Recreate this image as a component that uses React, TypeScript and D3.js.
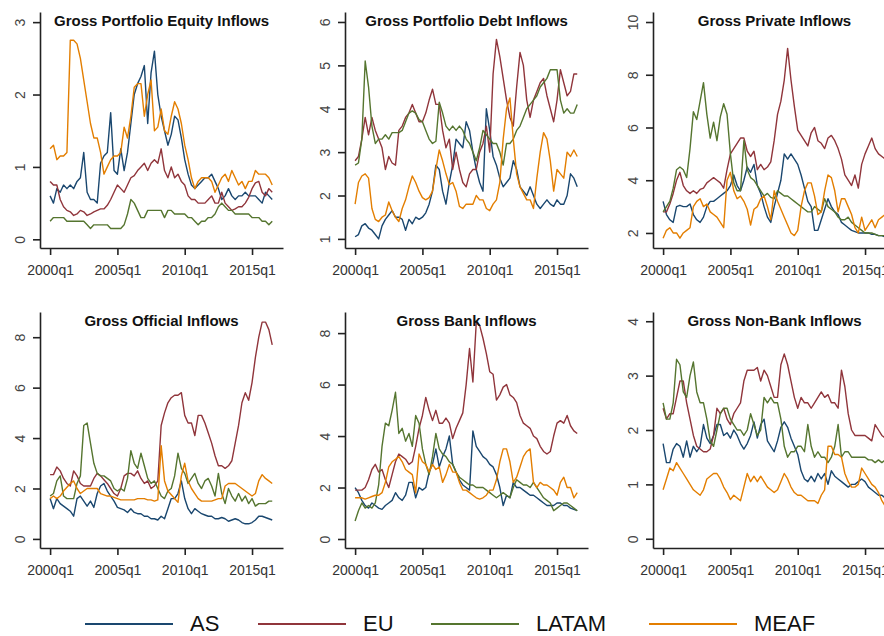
import React, { useEffect, useRef } from "react";
import * as d3 from "d3";

// quarters 2000q1 .. 2016q3, index 0..66
const seriesNames = ["AS", "EU", "LATAM", "MEAF"];
const seriesColors = ["#1a476f", "#90353b", "#55752f", "#e37e00"];
const tickQuarters = [0, 20, 40, 60];
const tickLabels = ["2000q1", "2005q1", "2010q1", "2015q1"];

const equityAS = [
  0.6, 0.5, 0.7, 0.65, 0.75, 0.7, 0.75, 0.7, 0.8, 0.85,
  1.2, 0.65, 0.55, 0.55, 0.5, 1.05, 1.15, 1.2, 1.75, 0.95,
  0.9, 1.25, 0.95, 1.2, 1.6, 2.0, 2.15, 2.25, 2.4, 1.6,
  2.3, 2.6, 2.0, 1.7, 1.5, 1.3, 1.45, 1.7, 1.65, 1.4,
  1.1, 0.9, 0.75, 0.7, 0.75, 0.8, 0.85, 0.85, 0.9, 0.8,
  0.7, 0.55, 0.6, 0.7, 0.6, 0.55, 0.6, 0.6, 0.65, 0.6,
  0.6, 0.6, 0.55, 0.5, 0.65, 0.6, 0.55,
];
const equityEU = [
  0.8, 0.75, 0.75, 0.55, 0.45, 0.4, 0.38, 0.33, 0.35, 0.4,
  0.38, 0.33, 0.35, 0.38, 0.4, 0.42, 0.42, 0.47, 0.55, 0.65,
  0.75, 0.7, 0.65, 0.75, 0.85, 0.88, 0.95, 1.0, 1.05, 0.95,
  1.05, 1.1, 1.05, 1.25, 0.95, 0.85, 1.0, 0.85, 0.9, 0.8,
  0.75, 0.6, 0.55, 0.55, 0.5, 0.5, 0.5, 0.55, 0.6, 0.5,
  0.5, 0.65, 0.5, 0.45, 0.4, 0.42, 0.45, 0.45, 0.5, 0.58,
  0.7, 0.78, 0.8, 0.65, 0.6, 0.7, 0.65,
];
const equityLATAM = [
  0.25, 0.3, 0.3, 0.3, 0.3, 0.25, 0.25, 0.25, 0.25, 0.25,
  0.25, 0.2, 0.15, 0.2, 0.2, 0.2, 0.2, 0.2, 0.15, 0.15,
  0.15, 0.15, 0.2, 0.35, 0.55, 0.5, 0.4, 0.3, 0.3, 0.4,
  0.4, 0.4, 0.4, 0.4, 0.3, 0.4, 0.4, 0.35, 0.35, 0.35,
  0.35, 0.3, 0.3, 0.25, 0.2, 0.25, 0.25, 0.3, 0.3, 0.35,
  0.45, 0.5, 0.45, 0.4, 0.4, 0.35, 0.35, 0.35, 0.35, 0.35,
  0.3, 0.3, 0.3, 0.25, 0.25, 0.2, 0.25,
];
const equityMEAF = [
  1.25, 1.3, 1.1, 1.15, 1.15, 1.2, 2.75, 2.75, 2.7, 2.5,
  2.2, 1.9, 1.6, 1.4, 1.4, 1.2, 0.9, 1.0, 1.1, 1.15,
  1.15, 1.2, 1.55, 1.4, 1.7, 2.1, 2.15, 2.15, 1.7, 2.0,
  2.2, 1.5, 1.55, 1.8, 1.5, 1.45, 1.7, 1.9, 1.8, 1.6,
  1.3, 1.1, 0.85, 0.7, 0.8, 0.85, 0.85, 0.85, 0.8, 0.65,
  0.75, 0.85, 0.9, 0.8, 0.95, 0.85, 0.75, 0.8, 0.7, 0.8,
  0.8, 0.95, 0.9, 0.9, 0.9, 0.85, 0.75,
];

const debtAS = [
  1.05, 1.1, 1.3, 1.35, 1.25, 1.2, 1.1, 1.0, 1.3, 1.45,
  1.55, 1.65, 1.5, 1.5, 1.45, 1.2, 1.45, 1.35, 1.5, 1.45,
  1.5, 1.6, 1.8, 2.1, 2.7, 2.6, 2.1, 1.8, 2.3, 2.7,
  3.3, 3.2, 3.1, 3.7, 3.5, 3.0, 2.6, 2.3, 2.1, 4.0,
  3.5, 2.9, 2.7, 2.4, 2.2, 2.3, 2.4, 2.8, 2.6, 2.2,
  2.1, 2.0, 2.2, 2.0, 1.8, 1.7, 1.8, 1.9, 1.8, 1.75,
  1.9, 1.8, 1.8, 2.0, 2.5, 2.4, 2.2,
];
const debtEU = [
  2.8, 2.9, 3.3, 3.8, 3.4, 3.8, 3.5, 3.3, 3.1, 2.6,
  2.9, 2.75, 2.7, 3.5, 3.6, 3.8, 3.9, 4.1, 3.9, 3.7,
  3.7, 3.9, 4.2, 4.45, 4.1, 4.1, 3.5, 3.1, 3.3, 2.6,
  3.0, 2.6, 2.3, 2.2, 2.5, 2.6, 2.6, 3.0, 3.2, 3.6,
  3.0, 4.8, 5.6, 5.2, 4.7, 4.2, 3.8, 3.6, 4.5, 5.3,
  5.0, 4.2, 3.8, 4.2, 4.4, 4.6, 4.7, 4.3, 4.0, 3.7,
  4.2, 4.9, 4.6, 4.3, 4.4, 4.8, 4.8,
];
const debtLATAM = [
  2.7, 2.75, 3.3, 5.1, 4.5, 3.6, 3.2, 3.3, 3.3, 3.4,
  3.3, 3.45, 3.45, 3.45, 3.5, 3.7, 3.9, 3.95, 3.9, 3.75,
  3.7, 3.5, 3.3, 3.2, 3.25, 4.15, 3.9, 3.6, 3.5, 3.6,
  3.5, 3.6, 3.5, 3.3, 3.2, 3.0, 2.8, 3.1, 3.5, 3.4,
  3.3, 3.2, 3.2, 3.0, 2.7, 3.2, 3.2, 3.3, 3.5, 3.6,
  3.8, 4.0, 4.1, 4.2, 4.3, 4.5, 4.6, 4.7, 4.9, 4.9,
  4.9, 4.2, 3.9, 4.0, 3.9, 3.9, 4.1,
];
const debtMEAF = [
  1.8, 2.3, 2.45, 2.5, 2.4, 1.7, 1.45, 1.4, 1.5, 1.55,
  1.85, 1.65, 1.5, 1.4, 1.7, 1.9, 2.2, 2.45, 2.3, 2.1,
  1.95, 1.9, 1.95, 2.1, 2.6, 3.05, 2.8, 2.5, 2.25, 2.3,
  2.1, 1.75, 1.7, 1.8, 1.8, 1.8, 2.0, 1.9, 1.9, 1.7,
  1.65, 1.8, 1.9, 2.3, 3.3, 4.0, 4.25, 3.3, 2.5, 2.2,
  2.05, 1.9, 1.9, 1.7, 2.4, 3.0, 3.45, 3.3, 2.8, 2.1,
  2.6, 2.5, 2.4, 3.0, 2.9, 3.05, 2.9,
];

const privAS = [
  3.2, 2.7, 2.5, 2.4, 3.0, 3.05, 3.0, 3.0, 3.1, 2.7,
  2.5, 2.4, 2.6, 3.0, 3.2, 3.2, 3.3, 3.4, 3.5, 3.6,
  3.8, 4.2, 3.8, 3.6, 4.0, 4.5, 4.3, 4.6, 3.8, 3.5,
  3.0, 2.6, 2.4, 3.0, 3.5, 4.0, 5.0, 4.8, 5.0, 4.8,
  4.6, 4.2, 3.7, 3.2, 3.0, 2.1, 2.1, 2.5, 2.9, 3.3,
  3.0, 2.8, 2.7, 2.4, 2.3, 2.2, 2.1, 2.05, 2.0, 2.0,
  2.0, 2.0, 1.95, 1.95, 1.9, 1.9, 1.85,
];
const privEU = [
  2.8, 2.8, 3.1, 3.5, 4.0, 4.3, 3.8, 3.6, 3.5, 3.6,
  3.5, 3.65, 3.7, 3.9, 4.0, 4.1, 4.0, 3.9, 3.7, 4.4,
  5.0, 5.2, 5.4, 5.6, 5.6, 5.1, 4.9, 5.1, 4.4, 4.6,
  4.4, 4.5, 4.7, 5.5, 6.5, 7.0, 7.8, 9.0, 7.8, 6.8,
  5.9, 5.7, 5.5, 5.3, 5.8, 6.0, 5.5, 5.4, 5.2, 5.6,
  5.7, 5.5, 5.2, 4.8, 4.2, 4.0, 3.8, 4.2, 3.7, 4.6,
  5.0, 5.3, 5.6, 5.2, 5.0, 4.9, 4.8,
];
const privLATAM = [
  2.8, 3.0, 3.2, 3.7, 4.4, 4.5, 4.4, 4.1, 5.2, 6.6,
  6.3, 7.0, 7.7, 6.5, 5.6, 6.2, 5.5, 6.4, 6.9, 6.5,
  5.0, 3.9, 3.6, 3.6, 5.5, 4.4, 4.1, 4.0, 3.8, 3.6,
  3.4, 3.5, 3.35, 3.3, 3.6, 3.5, 3.4, 3.4, 3.3, 3.2,
  3.1, 3.0, 2.9, 2.8, 2.8, 3.0, 2.9, 2.8, 3.3, 3.0,
  2.9, 2.8, 2.6, 2.5, 2.5, 2.6, 2.4, 2.3, 2.2, 2.1,
  2.0, 2.0, 2.0, 1.95, 1.9, 1.9, 1.9,
];
const privMEAF = [
  1.8, 2.1, 2.2, 2.0, 2.0, 1.8, 2.0, 2.1, 2.2, 3.0,
  3.2, 3.3, 3.0, 3.1, 2.8, 2.7, 2.6, 2.4, 2.2, 4.0,
  4.3, 3.6, 3.3, 3.4, 3.2, 2.9, 2.3, 2.9, 3.0, 3.3,
  3.4, 3.0, 2.5, 3.6, 3.2, 2.9, 2.6, 2.3, 2.0, 1.9,
  2.1, 3.0, 3.6, 3.9, 3.9, 3.4, 2.7, 2.8, 3.6, 4.2,
  4.1, 3.6, 2.8, 3.3, 3.3, 3.0, 2.7, 2.2, 2.0, 2.6,
  2.1, 2.3, 2.5, 2.2, 2.5, 2.6, 2.7,
];

const offAS = [
  1.6, 1.2, 1.6, 1.4, 1.3, 1.2, 1.1, 0.9, 1.6, 1.7,
  1.5, 1.3, 1.5, 1.25, 1.8, 2.1, 2.2, 1.9, 1.7, 1.5,
  1.25, 1.2, 1.15, 1.05, 1.2, 1.05, 1.0, 1.0, 0.9, 0.9,
  0.8, 0.8, 0.75, 0.9, 0.8, 1.2, 1.6, 1.6, 1.8, 2.3,
  1.6, 1.2, 1.0, 1.2, 1.1, 1.0, 0.95, 0.9, 0.9, 0.8,
  0.8, 0.85, 0.8, 0.7, 0.75, 0.8, 0.75, 0.65, 0.6, 0.6,
  0.65, 0.75, 0.9, 0.9, 0.85, 0.8, 0.75,
];
const offEU = [
  2.55, 2.55, 2.85, 2.7, 2.4, 2.2, 2.1, 2.7, 2.5, 2.2,
  2.1, 2.1, 2.1, 2.4, 2.6, 2.5, 2.35, 2.2, 2.0, 1.8,
  1.7, 2.0, 2.5, 2.6, 2.6, 2.5, 2.7, 2.4, 2.2, 2.3,
  2.0, 2.1, 2.3, 4.5, 5.0, 5.4, 5.6, 5.7, 5.7, 5.8,
  4.9, 4.6, 4.6, 4.1, 4.9, 4.9, 4.6, 4.2, 3.8, 3.3,
  2.9, 2.9, 2.8, 2.9, 3.1, 3.8, 4.5, 5.4, 5.8, 5.5,
  6.2, 7.2, 8.0, 8.6, 8.6, 8.3, 7.7,
];
const offLATAM = [
  1.7, 1.8, 2.3, 2.5, 1.7, 1.6, 1.6, 1.6, 2.2, 2.5,
  4.5, 4.6, 3.8, 3.0, 2.6, 2.5, 2.5, 2.4, 2.3, 2.0,
  1.9, 2.0, 1.9, 2.4, 3.5, 3.0, 2.8, 3.4, 2.9, 2.4,
  2.2, 2.3, 2.0, 1.7, 1.6, 1.9, 2.0, 2.5, 3.4, 2.8,
  2.6, 2.2, 2.4, 2.6, 2.2, 2.0, 2.3, 2.4, 2.1, 1.7,
  2.6, 1.8, 1.4, 2.0, 1.7, 1.5, 1.8, 1.5, 1.7, 1.4,
  1.6, 1.3, 1.4, 1.4, 1.4, 1.5, 1.5,
];
const offMEAF = [
  1.6, 1.7, 1.6, 1.7, 1.9, 2.05, 2.2, 2.3, 2.0, 1.8,
  1.9, 2.0, 2.0, 2.0, 2.0, 1.8, 1.75, 1.7, 1.7, 1.65,
  1.6, 1.55, 1.55, 1.55, 1.55, 1.55, 1.6, 1.6, 1.6, 1.55,
  1.55, 1.5, 1.55, 3.7, 2.3, 1.9, 1.75, 1.6, 1.45, 2.5,
  3.0, 2.3, 2.0, 1.8, 1.6, 1.5, 1.5, 1.5, 1.5, 1.55,
  1.6, 1.6, 2.1, 2.2, 2.2, 2.2, 2.1, 2.0, 1.9, 1.8,
  1.7, 1.8, 2.3, 2.55, 2.4, 2.3, 2.2,
];

const bankAS = [
  2.0, 1.8, 1.5, 1.3, 1.2, 1.4, 1.3, 1.2, 1.15, 1.3,
  1.4, 1.5, 1.8, 1.6, 1.5, 1.7, 2.2, 2.2, 1.6, 2.0,
  1.9, 2.0, 2.6, 2.9, 3.5, 2.8, 3.2, 3.5, 4.0, 2.9,
  2.6, 2.3, 2.1, 2.0, 1.9, 4.2, 3.6, 3.4, 3.2, 3.1,
  2.9, 2.8, 2.5, 2.0, 1.3, 1.7, 1.6, 2.2, 2.0, 2.0,
  1.9, 1.8, 1.7, 1.7, 1.6, 1.5, 1.4, 1.3, 1.3, 1.3,
  1.4, 1.4, 1.3, 1.3, 1.2, 1.15, 1.1,
];
const bankEU = [
  1.9, 1.9, 1.9, 2.0, 2.3, 2.7, 2.9, 2.6, 2.7, 2.3,
  2.0, 2.5, 3.0, 3.3, 3.2, 3.1, 2.9, 3.0, 3.6, 4.3,
  4.8, 5.5, 5.0, 4.6, 5.0, 4.5, 4.5, 4.7, 4.5, 3.9,
  4.3, 4.6, 4.9, 6.0, 7.4, 6.1, 8.4, 8.3, 7.8, 7.2,
  6.5, 6.4, 5.4, 5.6, 5.9, 6.0, 5.6, 5.5, 5.3, 4.8,
  4.5, 4.4, 4.3, 4.0, 3.9, 3.6, 3.4, 3.3, 3.4, 4.0,
  4.5, 4.6, 4.5, 4.8, 4.4, 4.2, 4.1,
];
const bankLATAM = [
  0.7, 1.1, 1.4, 1.2, 1.3, 1.2, 1.4, 2.1, 3.6, 4.5,
  4.4, 5.0, 5.7, 4.1, 4.3, 3.8, 4.1, 3.6, 4.8, 4.5,
  3.5, 2.9, 2.5, 3.2, 4.1, 3.5, 3.3, 3.2, 3.0, 2.9,
  2.6, 2.4, 2.3, 2.2, 2.1, 2.1, 2.0, 2.0, 2.0, 1.9,
  1.8, 1.7, 1.6, 1.7, 1.8, 1.7, 1.6, 2.0, 2.3, 2.2,
  2.1, 2.1, 2.0, 2.2, 2.0, 1.8, 1.6, 1.5, 1.4, 1.1,
  1.2, 1.3, 1.4, 1.4, 1.3, 1.2, 1.1,
];
const bankMEAF = [
  1.6, 1.6, 1.6, 1.55, 1.6, 1.65, 1.7, 1.7, 1.8, 2.2,
  2.8, 3.0, 3.1, 3.2, 3.0, 2.7, 2.6, 2.5, 1.8, 3.3,
  3.0, 2.9, 2.6, 2.9, 2.7, 2.8, 2.2, 2.5, 2.9, 2.6,
  2.6, 2.2, 1.9, 1.9, 1.8, 1.7, 1.6, 1.55, 1.6, 1.7,
  1.9, 1.9, 2.3, 3.0, 3.5, 3.5, 3.0, 2.2, 2.4, 2.8,
  3.2, 3.4, 3.5, 2.2, 2.0, 2.2, 2.1, 2.1, 2.0, 1.9,
  1.7, 2.2, 2.4, 2.0, 2.0, 1.6, 1.8,
];

const nonBankAS = [
  1.75, 1.4, 1.4, 1.65, 1.75, 1.7, 1.5, 1.8, 1.5, 1.7,
  1.6, 1.7, 2.1, 1.85, 1.75, 1.9, 2.1, 2.1, 1.9, 1.95,
  1.85, 2.0, 1.9, 1.75, 1.65, 1.75, 1.9, 2.15, 1.85, 2.1,
  2.2, 1.8, 1.7, 1.6, 1.8, 2.05, 2.15, 2.05, 1.85, 1.7,
  1.55, 1.25, 1.1, 1.05, 1.15, 1.05, 1.2, 1.1, 1.2, 1.0,
  1.25, 1.15, 1.1, 1.05, 1.0, 0.95, 1.0, 1.0, 1.05, 1.1,
  1.05, 0.95, 0.9, 0.85, 0.8, 0.8, 0.75,
];
const nonBankEU = [
  2.4, 2.2, 2.3, 2.3, 2.6, 2.9, 2.9, 2.5, 2.2, 1.9,
  1.7, 1.65, 1.6, 1.6, 1.65, 1.9, 2.4, 2.3, 2.4, 2.2,
  2.1, 2.3, 2.4, 2.5, 2.9, 3.1, 3.1, 3.1, 3.15, 2.9,
  3.1, 3.0, 2.8, 2.6, 2.6, 3.2, 3.4, 3.2, 2.9, 2.6,
  2.4, 2.6, 2.5, 2.5, 2.4, 2.5, 2.6, 2.7, 2.6, 2.65,
  2.5, 2.5, 2.4, 3.1, 2.8, 2.3, 2.0, 1.9, 1.9, 1.9,
  1.9, 1.85, 1.8, 2.1, 2.0, 1.9, 1.85,
];
const nonBankLATAM = [
  2.5, 2.2, 2.2, 2.5, 3.3, 3.2, 2.7, 2.6, 3.0, 3.25,
  2.7, 2.5, 2.5, 2.2, 1.8, 1.7, 2.0, 2.3, 2.4, 2.4,
  2.2, 2.1, 2.0, 2.0, 1.9, 2.0, 2.3, 2.1, 1.9, 2.0,
  2.6, 2.5, 2.6, 2.5, 2.5, 2.2, 1.7, 1.5, 1.6, 1.6,
  1.7, 1.7, 1.6, 2.1, 1.7, 1.5, 1.6, 1.5, 1.5, 1.4,
  1.5, 1.7, 2.1, 1.5, 1.6, 1.6, 1.5, 1.5, 1.5, 1.5,
  1.5, 1.45, 1.45, 1.4, 1.45, 1.4, 1.45,
];
const nonBankMEAF = [
  0.9, 1.1, 1.3, 1.25, 1.4, 1.3, 1.2, 1.1, 1.0, 0.9,
  0.85, 0.8, 0.9, 1.1, 1.15, 1.2, 1.2, 1.1, 0.95, 0.85,
  0.72, 0.8, 0.75, 0.7, 0.95, 1.2, 1.05, 1.15, 1.05, 1.15,
  1.05, 0.95, 0.9, 0.85, 0.9, 1.05, 1.2, 1.1, 0.95, 0.85,
  0.8, 0.8, 0.75, 0.7, 0.7, 0.7, 0.65, 0.8, 0.9, 1.7,
  1.7, 1.55, 1.55, 1.5, 1.2, 1.05, 0.95, 0.95, 1.0, 1.3,
  1.2, 1.1, 1.0, 0.95, 0.85, 0.7, 0.6,
];

const panels = [
  { title: "Gross Portfolio Equity Inflows", yTicks: [0, 1, 2, 3], yDomain: [-0.12, 3.14], col: 0, row: 0,
    series: [equityAS, equityEU, equityLATAM, equityMEAF] },
  { title: "Gross Portfolio Debt Inflows", yTicks: [1, 2, 3, 4, 5, 6], yDomain: [0.79, 6.23], col: 1, row: 0,
    series: [debtAS, debtEU, debtLATAM, debtMEAF] },
  { title: "Gross Private Inflows", yTicks: [2, 4, 6, 8, 10], yDomain: [1.43, 10.38], col: 2, row: 0,
    series: [privAS, privEU, privLATAM, privMEAF] },
  { title: "Gross Official Inflows", yTicks: [0, 2, 4, 6, 8], yDomain: [-0.36, 9.0], col: 0, row: 1,
    series: [offAS, offEU, offLATAM, offMEAF] },
  { title: "Gross Bank Inflows", yTicks: [0, 2, 4, 6, 8], yDomain: [-0.35, 8.82], col: 1, row: 1,
    series: [bankAS, bankEU, bankLATAM, bankMEAF] },
  { title: "Gross Non-Bank Inflows", yTicks: [0, 1, 2, 3, 4], yDomain: [-0.17, 4.17], col: 2, row: 1,
    series: [nonBankAS, nonBankEU, nonBankLATAM, nonBankMEAF] },
];

const FONT = "'Liberation Sans', Arial, Helvetica, sans-serif";

const App = () => {
  const svgRef = useRef(null);

  useEffect(() => {
    const width = 884;
    const height = 636;
    const colLeft = [40, 345, 653];
    const rowTop = [12, 312];
    const plotW = 243;
    const plotH = 236;

    const svg = d3.select(svgRef.current);
    svg.selectAll("*").remove();

    svg.append("rect").attr("width", width).attr("height", height).attr("fill", "#fff");

    panels.forEach((p) => {
      const left = colLeft[p.col];
      const top = rowTop[p.row];
      const bottom = top + plotH;

      const x = d3.scaleLinear().domain([-3, 69.2]).range([left, left + plotW]);
      const y = d3.scaleLinear().domain(p.yDomain).range([bottom, top]);

      const g = svg.append("g");

      const line = d3
        .line<number>()
        .x((d, i) => x(i))
        .y((d) => y(d));

      p.series.forEach((values, k) => {
        g.append("path")
          .datum(values)
          .attr("d", line)
          .attr("fill", "none")
          .attr("stroke", seriesColors[k])
          .attr("stroke-width", 1.4)
          .attr("stroke-linejoin", "round");
      });

      // x axis
      const xAxis = g
        .append("g")
        .attr("transform", `translate(0,${bottom})`)
        .call(
          d3
            .axisBottom(x)
            .tickValues(tickQuarters)
            .tickFormat((d, i) => tickLabels[i])
            .tickSize(7)
            .tickSizeOuter(0)
            .tickPadding(10)
        );
      xAxis.attr("font-size", 14).attr("font-family", FONT).attr("color", "#222");
      xAxis.selectAll("path, line").attr("stroke-width", 1.6);
      xAxis.selectAll("text").attr("fill", "#333");

      // y axis, vertical labels
      const yAxis = g
        .append("g")
        .attr("transform", `translate(${left},0)`)
        .call(
          d3
            .axisLeft(y)
            .tickValues(p.yTicks)
            .tickFormat((d) => String(d))
            .tickSize(7)
            .tickSizeOuter(0)
        );
      yAxis.attr("font-size", 14).attr("font-family", FONT).attr("color", "#222");
      yAxis.selectAll("path, line").attr("stroke-width", 1.6);
      yAxis
        .selectAll("text")
        .attr("x", 0)
        .attr("dy", 0)
        .attr("text-anchor", "middle")
        .attr("transform", "translate(-15,0) rotate(-90)")
        .attr("fill", "#444");

      g.append("text")
        .attr("x", left + plotW / 2)
        .attr("y", top + 14)
        .attr("text-anchor", "middle")
        .attr("font-family", FONT)
        .attr("font-size", 15)
        .attr("font-weight", "bold")
        .attr("fill", "#111")
        .text(p.title);
    });

    // Legend
    const legendX = [85, 258, 431, 649];
    const legend = svg.append("g").attr("transform", "translate(0, 624)");
    seriesNames.forEach((name, k) => {
      const item = legend.append("g").attr("transform", `translate(${legendX[k]},0)`);
      item.append("line")
        .attr("x1", 0)
        .attr("x2", 88)
        .attr("y1", 0)
        .attr("y2", 0)
        .attr("stroke", seriesColors[k])
        .attr("stroke-width", 2.2);
      item.append("text")
        .attr("x", 105)
        .attr("y", 7)
        .attr("font-family", FONT)
        .attr("font-size", 22)
        .attr("fill", "#111")
        .text(name);
    });
  }, []);

  return (
    <div style={{ position: "absolute", left: 0, top: 0 }}>
      <svg ref={svgRef} width={884} height={636} style={{ display: "block" }}></svg>
    </div>
  );
};

export default App;
